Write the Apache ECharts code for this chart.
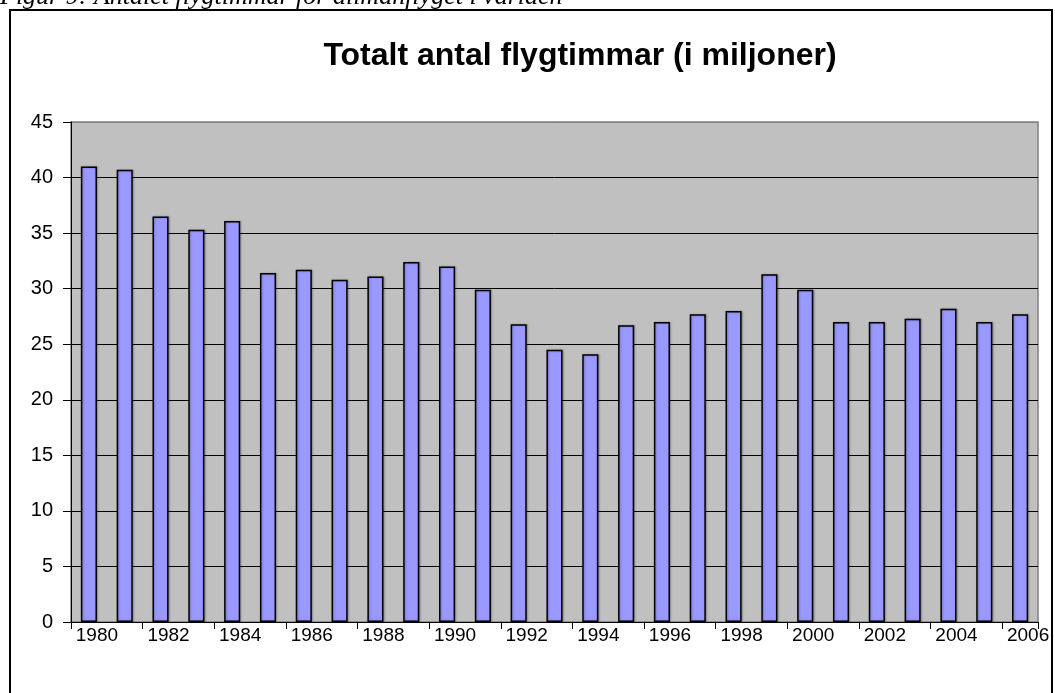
<!DOCTYPE html>
<html>
<head>
<meta charset="utf-8">
<script src="https://cdn.jsdelivr.net/npm/echarts@6/dist/echarts.min.js"></script>
<style>
  html, body { margin: 0; padding: 0; background: #fff; }
  #chart { width: 1055px; height: 693px; }
</style>
</head>
<body>
<div id="chart"></div>
<script>
// år och flygtimmar (miljoner)
var years = ['1980', '1981', '1982', '1983', '1984', '1985', '1986', '1987', '1988',
  '1989', '1990', '1991', '1992', '1993', '1994', '1995', '1996', '1997', '1998',
  '1999', '2000', '2001', '2002', '2003', '2004', '2005', '2006'];
var hours = [41.0, 40.7, 36.5, 35.3, 36.1, 31.4, 31.7, 30.8, 31.1,
  32.4, 32.0, 29.9, 26.8, 24.5, 24.1, 26.7, 27.0, 27.7, 28.0,
  31.3, 29.9, 27.0, 27.0, 27.3, 28.2, 27.0, 27.7];

var caption = 'Figur 9: Antalet flygtimmar för allmänflyget i världen';
var chartTitle = 'Totalt antal flygtimmar (i miljoner)';

var font = '"Liberation Sans", Arial, sans-serif';

var chart = echarts.init(document.getElementById('chart'));

chart.setOption({
  animation: false,
  backgroundColor: '#ffffff',
  title: {
    text: chartTitle,
    left: 575,
    top: 35,
    textAlign: 'center',
    textStyle: { fontFamily: font, fontSize: 32, fontWeight: 'bold', color: '#000' }
  },
  graphic: [
    {
      type: 'rect',
      shape: { x: 10, y: 10, width: 1042, height: 700 },
      style: { fill: 'none', stroke: '#000', lineWidth: 2 },
      z: 0
    },
    {
      type: 'text',
      left: 0,
      top: -16,
      style: {
        text: caption,
        font: 'italic 26px "Liberation Serif", "Times New Roman", serif',
        fill: '#000'
      }
    }
  ],
  grid: {
    left: 71,
    top: 122,
    right: 17,
    bottom: 71,
    show: true,
    backgroundColor: '#C0C0C0',
    borderColor: '#808080',
    borderWidth: 1.5
  },
  xAxis: {
    type: 'category',
    data: years,
    boundaryGap: true,
    axisLine: { lineStyle: { color: '#000', width: 1 } },
    axisTick: { show: true, interval: 1, length: 7, lineStyle: { color: '#000' } },
    axisLabel: {
      interval: 1,
      margin: 3,
      padding: [0, 0, 0, 16],
      fontFamily: font,
      fontSize: 19,
      lineHeight: 21,
      color: '#000'
    }
  },
  yAxis: {
    type: 'value',
    min: 0,
    max: 45,
    interval: 5,
    axisLine: { show: true, lineStyle: { color: '#000', width: 1 } },
    axisTick: { show: true, length: 8, lineStyle: { color: '#000' } },
    axisLabel: { margin: 18, fontFamily: font, fontSize: 20, color: '#000' },
    splitLine: {
      show: true,
      lineStyle: {
        color: ['#000', '#000', '#000', '#000', '#000', '#000', '#000', '#000', '#000', '#808080'],
        width: 1
      }
    }
  },
  series: [{
    type: 'bar',
    data: hours,
    barWidth: '45%',
    itemStyle: {
      color: '#9999FF',
      borderColor: '#000',
      borderWidth: 1.5,
      shadowColor: 'rgba(0,0,0,0.25)',
      shadowBlur: 2,
      shadowOffsetX: 1,
      shadowOffsetY: 0
    }
  }]
});
</script>
</body>
</html>
